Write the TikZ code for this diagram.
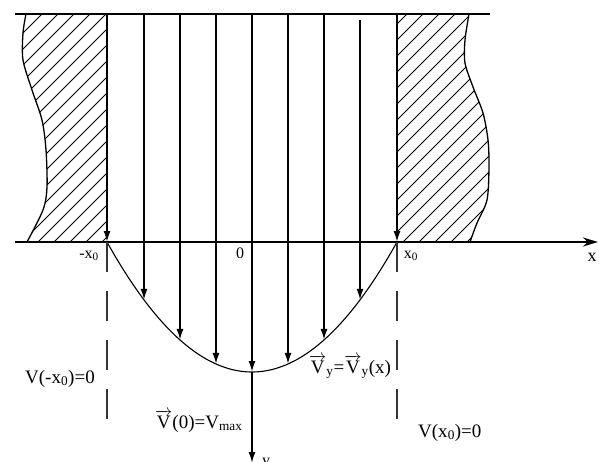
\documentclass[tikz,border=0pt]{standalone}
\usepackage{fontspec}
\setmainfont{Liberation Serif}
\usetikzlibrary{arrows.meta}
\newcommand{\vecV}{\ensuremath{\overrightarrow{\hbox{V}}}}
\begin{document}
\begin{tikzpicture}[x=1pt,y=-1pt,
  wall/.style={line width=1.9pt},
  flow/.style={line width=1.7pt,-{Latex[length=11pt,width=7pt]}},
  hatch/.style={line width=0.9pt},
  bound/.style={line width=1.3pt},
  dashline/.style={line width=1.5pt,black!80,dash pattern=on 30pt off 19pt},
  biglab/.style={inner sep=0pt,anchor=base west,font=\fontsize{19}{22}\selectfont},
  axlab/.style={inner sep=0pt,anchor=base,font=\fontsize{16}{19}\selectfont}]
\useasboundingbox (0,0) rectangle (600,461);

% hatched walls
\begin{scope}
  \clip plot[smooth] coordinates {(26,14) (23,33) (23,60) (32,90) (42,120) (46,150) (47,187) (43,210) (27,242)} -- (107,242) -- (107,14) -- cycle;
  \foreach \c in {-202,-186,...,110} \draw[hatch] (\c,242) -- ++(228,-228);
\end{scope}
\draw[bound] plot[smooth] coordinates {(26,14) (23,33) (23,60) (32,90) (42,120) (46,150) (47,187) (43,210) (27,242)};
\begin{scope}
  \clip plot[smooth] coordinates {(469,14) (465,40) (465,63) (473,87) (483,113) (488,140) (489,167) (487,200) (477,223) (470,242)} -- (397,242) -- (397,14) -- cycle;
  \foreach \c in {163,179,...,475} \draw[hatch] (\c,242) -- ++(228,-228);
\end{scope}
\draw[bound] plot[smooth] coordinates {(469,14) (465,40) (465,63) (473,87) (483,113) (488,140) (489,167) (487,200) (477,223) (470,242)};

% coordinates
\coordinate (tl) at (15,14);
\coordinate (tr) at (490,14);
\coordinate (al) at (15,242);
\coordinate (ar) at (598,242);
\coordinate (wlt) at (107,14);
\coordinate (wlb) at (107,242);
\coordinate (wrt) at (397,14);
\coordinate (wrb) at (397,242);
\coordinate (ct) at (252,14);
\coordinate (cv) at (252,372);
\coordinate (cb) at (252,463);

% top line and x axis
\draw[line width=2.3pt] (tl) -- (tr);
\draw[line width=2.3pt,-{Stealth[length=15pt,width=9pt]}] (al) -- (ar);

% wall lines with arrows onto the axis
\draw[flow] (wlt) -- (wlb);
\draw[flow] (wrt) -- (wrb);

% velocity arrows
\foreach \x/\n in {144/a,180/b,216/c,288/d,324/e} {
  \pgfmathsetmacro\yp{242+130*(1-((\x-252)/145)^2)}
  \coordinate (t\n) at (\x,14);
  \coordinate (p\n) at (\x,\yp);
  \draw[flow] (t\n) -- (p\n);
}
\pgfmathsetmacro\yp{242+130*(1-((360-252)/145)^2)}
\coordinate (tf) at (360,20);
\coordinate (pf) at (360,\yp);
\draw[flow] (tf) -- (pf);
\draw[flow] (ct) -- (cv);
\draw[flow,line width=1.5pt] (cv) -- (cb);

% parabola
\draw[line width=1.1pt] plot[domain=-145:145,samples=80] ({252+\x},{242+130*(1-(\x/145)^2)});

% dashed lines
\coordinate (dl) at (107,431);
\coordinate (dr) at (397,431);
\draw[dashline] (wlb) -- (dl);
\draw[dashline] (wrb) -- (dr);

% labels
\node[axlab] (lmx) at (89,258) {-x\textsubscript{0}};
\node[axlab] (lo) at (240,258) {0};
\node[axlab] (lx0) at (411,258) {x\textsubscript{0}};
\node[axlab,font=\fontsize{18}{20}\selectfont] (lx) at (592,261) {x};
\node[axlab] (ly) at (266,465) {y};
\node[biglab] (vl) at (25,383) {V(-x\textsubscript{0})=0};
\node[biglab] (vc) at (155,428) {\vecV(0)=V\textsubscript{max}};
\node[biglab] (vy) at (309,373) {\vecV\textsubscript{y}=\vecV\textsubscript{y}(x)};
\node[biglab] (vr) at (418,437) {V(x\textsubscript{0})=0};
\end{tikzpicture}
\end{document}
